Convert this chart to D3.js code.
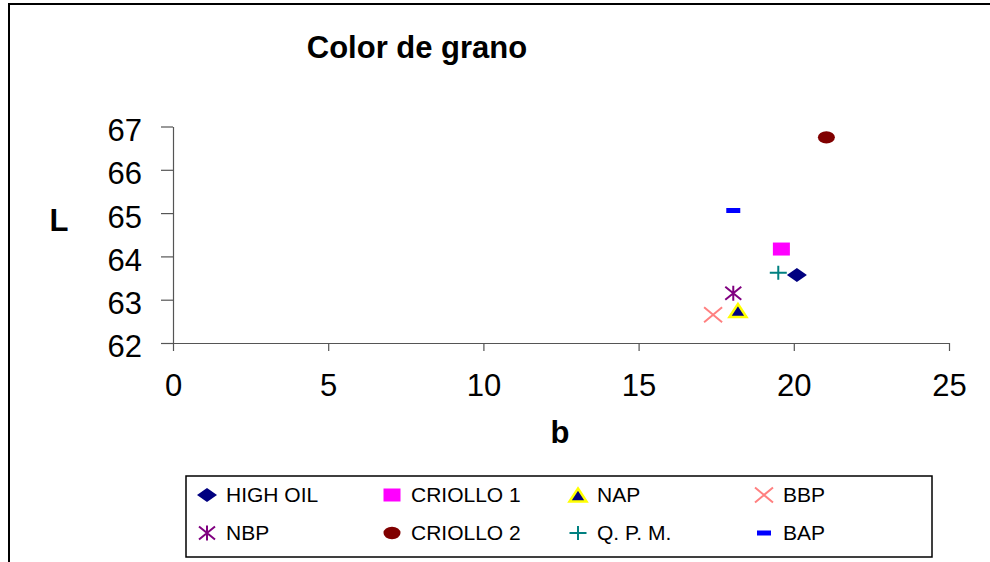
<!DOCTYPE html>
<html>
<head>
<meta charset="utf-8">
<script src="https://cdn.jsdelivr.net/npm/d3@7"></script>
<style>
  body { margin: 0; background: #fff; }
  svg text { font-family: "Liberation Sans", Arial, sans-serif; }
</style>
</head>
<body>
<div id="chart"></div>
<script>
// data
var seriesNames = ["HIGH OIL", "CRIOLLO 1", "NAP", "BBP", "NBP", "CRIOLLO 2", "Q. P. M.", "BAP"];
var bValues = [20.1, 19.6, 18.2, 17.4, 18.05, 21.05, 19.5, 18.05];
var lValues = [63.57, 64.17, 62.75, 62.65, 63.15, 66.75, 63.62, 65.06];
var markerKinds = ["diamond", "square", "triangle", "x", "star", "ellipse", "plus", "dash"];
var markerColors = ["#000080", "#FF00FF", "#000080", "#FF8080", "#800080", "#800000", "#008080", "#0000FF"];
var xTicks = [0, 5, 10, 15, 20, 25];
var yTicks = [62, 63, 64, 65, 66, 67];

var svgWidth = 990;
var svgHeight = 562;

var svg = d3.select("#chart")
            .append("svg")
            .attr("width", svgWidth)
            .attr("height", svgHeight);

// outer frame (only top and left visible in the picture)
svg.append("path")
   .attr("d", "M9,570 L9,4 L1000,4")
   .attr("fill", "none")
   .attr("stroke", "#000")
   .attr("stroke-width", 2);

var xScale = d3.scaleLinear().domain([0, 25]).range([173, 949]);
var yScale = d3.scaleLinear().domain([62, 67]).range([343, 126.5]);

var xAxis = d3.axisBottom(xScale).tickValues(xTicks).tickFormat(d3.format("d"))
              .tickSize(8).tickSizeOuter(0).tickPadding(23);
var yAxis = d3.axisLeft(yScale).tickValues(yTicks).tickFormat(d3.format("d"))
              .tickSize(12).tickSizeOuter(0).tickPadding(19);

var gx = svg.append("g")
            .attr("transform", "translate(0," + yScale(62) + ")")
            .call(xAxis);
var gy = svg.append("g")
            .attr("transform", "translate(" + xScale(0) + ",0)")
            .call(yAxis);

[gx, gy].forEach(function(g){
    g.selectAll("path, line").attr("stroke", "#555").attr("stroke-width", 1.2);
    g.selectAll("text")
     .attr("fill", "#000")
     .style("font-size", "31px")
     .style("font-family", "'Liberation Sans', Arial, sans-serif");
});
gy.selectAll("text").attr("dy", "0.45em");

// title and axis labels
svg.append("text")
   .attr("x", 417)
   .attr("y", 58)
   .attr("text-anchor", "middle")
   .style("font-size", "31px")
   .style("font-weight", "bold")
   .text("Color de grano");

svg.append("text")
   .attr("x", 59)
   .attr("y", 231)
   .attr("text-anchor", "middle")
   .style("font-size", "31px")
   .style("font-weight", "bold")
   .text("L");

svg.append("text")
   .attr("x", 560)
   .attr("y", 443)
   .attr("text-anchor", "middle")
   .style("font-size", "31px")
   .style("font-weight", "bold")
   .text("b");

// draws one marker into group g
function drawMarker(g, kind, color){
    if (kind == "diamond") {
        g.append("path").attr("d", "M0,-7 L10,0 L0,7 L-10,0 Z").attr("fill", color);
    } else if (kind == "square") {
        g.append("rect").attr("x", -8.5).attr("y", -6.5).attr("width", 17).attr("height", 13).attr("fill", color);
    } else if (kind == "triangle") {
        g.append("path").attr("d", "M0,-6.5 L8.5,6.5 L-8.5,6.5 Z")
         .attr("fill", color).attr("stroke", "#FFFF00").attr("stroke-width", 2.5).attr("stroke-linejoin", "miter");
    } else if (kind == "x") {
        g.append("path").attr("d", "M-9,-7.5 L9,7.5 M-9,7.5 L9,-7.5")
         .attr("stroke", color).attr("stroke-width", 2).attr("fill", "none");
    } else if (kind == "star") {
        g.append("path").attr("d", "M-8,-6.5 L8,6.5 M-8,6.5 L8,-6.5 M0,-7.5 L0,7.5")
         .attr("stroke", color).attr("stroke-width", 2).attr("fill", "none");
    } else if (kind == "ellipse") {
        g.append("ellipse").attr("rx", 8.5).attr("ry", 6.2).attr("fill", color);
    } else if (kind == "plus") {
        g.append("path").attr("d", "M-8.5,0 L8.5,0 M0,-7 L0,7")
         .attr("stroke", color).attr("stroke-width", 2).attr("fill", "none");
    } else if (kind == "dash") {
        g.append("rect").attr("x", -7).attr("y", -2.5).attr("width", 14).attr("height", 5).attr("fill", color);
    }
}

// points
seriesNames.forEach(function(name, i){
    var g = svg.append("g")
               .attr("transform", "translate(" + xScale(bValues[i]) + "," + yScale(lValues[i]) + ")");
    drawMarker(g, markerKinds[i], markerColors[i]);
});

// legend
var legend = svg.append("g");
legend.append("rect")
      .attr("x", 186)
      .attr("y", 476)
      .attr("width", 746)
      .attr("height", 81)
      .attr("fill", "#fff")
      .attr("stroke", "#000")
      .attr("stroke-width", 1.5);

var legendCols = [207, 392, 578, 764];
var legendRows = [495, 533];
seriesNames.forEach(function(name, i){
    var cx = legendCols[i % 4];
    var cy = legendRows[Math.floor(i / 4)];
    var g = legend.append("g").attr("transform", "translate(" + cx + "," + cy + ")");
    drawMarker(g, markerKinds[i], markerColors[i]);
    legend.append("text")
          .attr("x", cx + 19)
          .attr("y", cy + 7)
          .style("font-size", "21px")
          .text(name);
});
</script>
</body>
</html>
